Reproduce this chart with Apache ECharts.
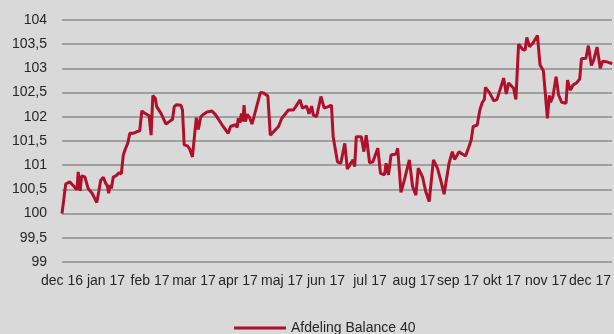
<!DOCTYPE html>
<html>
<head>
<meta charset="utf-8">
<script src="https://cdn.jsdelivr.net/npm/echarts@6/dist/echarts.min.js"></script>
<style>
html,body{margin:0;padding:0;background:#d9d9d9;}
#c{width:614px;height:334px;}
</style>
</head>
<body>
<div id="c"></div>
<script>
// Month labels (x = months since dec 16)
var monthLabels = ['dec 16','jan 17','feb 17','mar 17','apr 17','maj 17','jun 17','jul 17','aug 17','sep 17','okt 17','nov 17','dec 17'];
var yTicks = [99, 99.5, 100, 100.5, 101, 101.5, 102, 102.5, 103, 103.5, 104];
var seriesName = 'Afdeling Balance 40';
// time position in months since start of dec 16
var months = [0,0.029,0.084,0.129,0.174,0.219,0.264,0.309,0.339,0.368,0.413,0.445,0.519,0.564,0.594,0.639,0.684,0.729,0.790,0.835,0.880,0.941,0.986,1.032,1.061,1.090,1.122,1.167,1.226,1.271,1.302,1.348,1.393,1.438,1.497,1.542,1.587,1.619,1.693,1.767,1.813,1.874,1.980,2.025,2.065,2.122,2.151,2.251,2.363,2.438,2.512,2.551,2.603,2.702,2.738,2.777,2.851,2.905,2.964,3.025,3.054,3.099,3.153,3.228,3.296,3.409,3.492,3.641,3.777,3.831,3.944,3.980,4.007,4.041,4.079,4.108,4.138,4.169,4.210,4.260,4.318,4.357,4.508,4.582,4.679,4.734,4.808,4.921,4.995,5.147,5.260,5.312,5.411,5.463,5.560,5.614,5.673,5.711,5.786,5.885,5.959,6.050,6.124,6.163,6.201,6.260,6.336,6.427,6.485,6.562,6.614,6.652,6.688,6.801,6.862,6.914,6.991,7.065,7.178,7.239,7.330,7.366,7.420,7.479,7.591,7.630,7.704,7.781,7.894,7.968,8.043,8.097,8.194,8.269,8.345,8.442,8.533,8.607,8.684,8.797,8.871,8.923,9.023,9.097,9.172,9.248,9.300,9.345,9.436,9.497,9.549,9.600,9.623,9.722,9.813,9.887,10.038,10.097,10.151,10.264,10.316,10.377,10.474,10.526,10.564,10.625,10.700,10.806,10.865,10.941,10.977,11.032,11.077,11.106,11.158,11.230,11.287,11.354,11.456,11.490,11.551,11.619,11.693,11.767,11.806,11.907,11.964,12.032,12.084,12.160,12.235,12.287,12.370,12.460,12.506];
var values = [100.0,100.0,100.61,100.57,100.66,100.62,100.57,100.54,100.49,100.86,100.47,100.78,100.76,100.75,100.52,100.51,100.42,100.34,100.23,100.45,100.69,100.75,100.64,100.57,100.42,100.59,100.52,100.76,100.78,100.76,100.85,100.82,101.21,101.33,101.46,101.66,101.69,101.66,101.69,101.71,102.12,102.08,102.02,101.62,102.44,102.38,102.21,102.07,101.85,101.90,101.95,102.21,102.25,102.24,102.14,101.42,101.40,101.33,101.17,101.73,101.98,101.74,102.0,102.06,102.10,102.12,102.04,101.83,101.66,101.80,101.84,101.78,101.97,101.88,102.07,101.90,102.24,101.90,102.05,101.99,101.85,101.87,102.50,102.49,102.43,101.62,101.69,101.80,101.97,102.14,102.14,102.21,102.35,102.18,102.22,102.06,102.22,102.04,102.0,102.42,102.18,102.21,102.24,101.59,101.62,101.07,101.04,101.45,100.92,101.04,101.11,100.97,101.59,101.59,101.28,101.62,101.05,101.07,101.35,100.83,100.80,101.04,100.80,101.21,101.23,101.35,100.44,100.69,101.11,100.56,100.38,100.94,100.76,100.45,100.25,101.11,100.94,100.69,100.40,101.04,101.28,101.12,101.28,101.23,101.19,101.38,101.52,101.80,101.83,102.14,102.29,102.36,102.61,102.49,102.33,102.36,102.80,102.47,102.70,102.59,102.36,103.50,103.39,103.38,103.64,103.45,103.52,103.68,103.07,102.95,102.91,101.97,102.44,102.30,102.42,102.83,102.45,102.30,102.28,102.76,102.55,102.66,102.70,102.78,103.20,103.21,103.47,103.06,103.17,103.44,103.0,103.15,103.14,103.11,103.10];

var data = months.map(function (m, i) { return [m, values[i]]; });
var chart = echarts.init(document.getElementById('c'), null, {renderer: 'canvas'});
var font = '"Liberation Sans", Arial, sans-serif';
chart.setOption({
  backgroundColor: '#d9d9d9',
  animation: false,
  textStyle: {fontFamily: font},
  grid: {left: 62, top: 20, width: 554, height: 242, containLabel: false},
  xAxis: {
    type: 'value', min: 0, max: 12.5, interval: 1,
    axisLine: {show: false}, axisTick: {show: false}, splitLine: {show: false},
    axisLabel: {
      color: '#262626', fontSize: 14, fontFamily: font, margin: 12, showMaxLabel: false,
      formatter: function (v) { return Number.isInteger(v) && monthLabels[v] ? monthLabels[v] : ''; }
    }
  },
  yAxis: {
    type: 'value', min: yTicks[0], max: yTicks[yTicks.length - 1], interval: 0.5,
    axisLine: {show: false}, axisTick: {show: false},
    splitLine: {show: true, lineStyle: {color: '#8c8c8c', width: 1.5}},
    axisLabel: {
      color: '#262626', fontSize: 14, fontFamily: font, margin: 15,
      formatter: function (v) { return String(v).replace('.', ','); }
    }
  },
  legend: {
    data: [seriesName], left: 229, top: 316, icon: 'rect', itemWidth: 52, itemHeight: 3,
    textStyle: {color: '#262626', fontSize: 14, fontFamily: font}
  },
  series: [{
    name: seriesName, type: 'line', data: data, symbol: 'none', smooth: false,
    lineStyle: {color: '#b0102a', width: 3}, itemStyle: {color: '#b0102a'}
  }]
});
</script>
</body>
</html>
